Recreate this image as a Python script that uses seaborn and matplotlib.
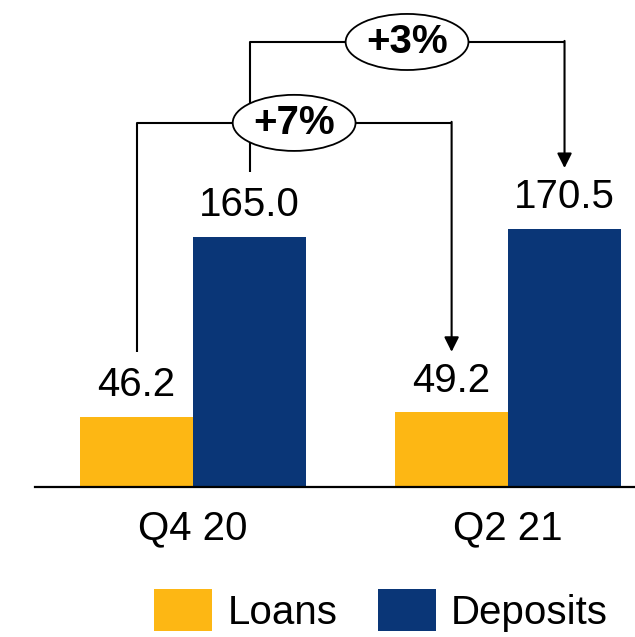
import pandas as pd
import seaborn as sns
import matplotlib.pyplot as plt
from matplotlib.patches import Ellipse

# Chart data
quarters = ['Q4 20', 'Q2 21']
loans = [46.2, 49.2]
deposits = [165.0, 170.5]
series_names = ['Loans', 'Deposits']
growth_labels = ['+7%', '+3%']   # loans growth, deposits growth

df = pd.DataFrame({
    'quarter': quarters * 2,
    'value': loans + deposits,
    'series': [series_names[0]] * 2 + [series_names[1]] * 2,
})

sns.set_style('white')
plt.rcParams['font.family'] = ['Liberation Sans', 'DejaVu Sans']
plt.rcParams['text.color'] = 'black'
plt.rcParams['xtick.color'] = 'black'
plt.rcParams['xtick.labelcolor'] = 'black'

fig = plt.figure(figsize=(6.35, 6.37), dpi=100)
ax = fig.add_axes([35 / 635, 150 / 637, 600 / 635, 487 / 637])

bar_width = 0.717
sns.barplot(data=df, x='quarter', y='value', hue='series',
            palette=['#FDB714', '#0A3677'], saturation=1,
            width=bar_width, linewidth=0, ax=ax)

for cont in ax.containers:
    ax.bar_label(cont, fmt='%.1f', padding=9, fontsize=29, color='black')

ax.set_xlim(-0.502, 1.403)
ax.set_ylim(0, 321.4)
ax.set_xlabel('')
ax.set_ylabel('')
ax.set_yticks([])
ax.tick_params(axis='x', length=0, pad=16, labelsize=29, labelcolor='black')
for side in ['top', 'left', 'right']:
    ax.spines[side].set_visible(False)
ax.spines['bottom'].set_color('black')
ax.spines['bottom'].set_linewidth(1.6)

# growth brackets: from Q4 20 bar to Q2 21 bar of the same series
off = bar_width / 4
brackets = [
    (loans, -off, 240.3, growth_labels[0]),
    (deposits, off, 293.7, growth_labels[1]),
]
for vals, dx, top, lab in brackets:
    x0, x1 = 0 + dx, 1 + dx
    y0 = vals[0] + 43
    y1 = vals[1] + 40
    ax.plot([x0, x0, x1], [y0, top, top], color='black', lw=1.5,
            solid_capstyle='butt', zorder=3)
    ax.annotate('', xy=(x1, y1), xytext=(x1, top + 0.7),
                arrowprops=dict(arrowstyle='-|>', color='black', lw=1.5,
                                mutation_scale=22, shrinkA=0, shrinkB=0),
                zorder=3)
    xc = (x0 + x1) / 2
    ax.add_patch(Ellipse((xc, top), 0.39, 37, facecolor='white',
                         edgecolor='black', lw=1.3, zorder=4))
    ax.text(xc, top, lab, ha='center', va='center', fontsize=29,
            fontweight='bold', color='black', zorder=5)

sns.move_legend(ax, 'center', bbox_to_anchor=(0.600, 0.0416),
                bbox_transform=fig.transFigure, ncol=2, frameon=False,
                title=None, fontsize=29, handlelength=1.44,
                handleheight=1.2, handletextpad=0.38, columnspacing=1.0,
                borderpad=0, labelcolor='black')

plt.savefig('out.png', dpi=100)
